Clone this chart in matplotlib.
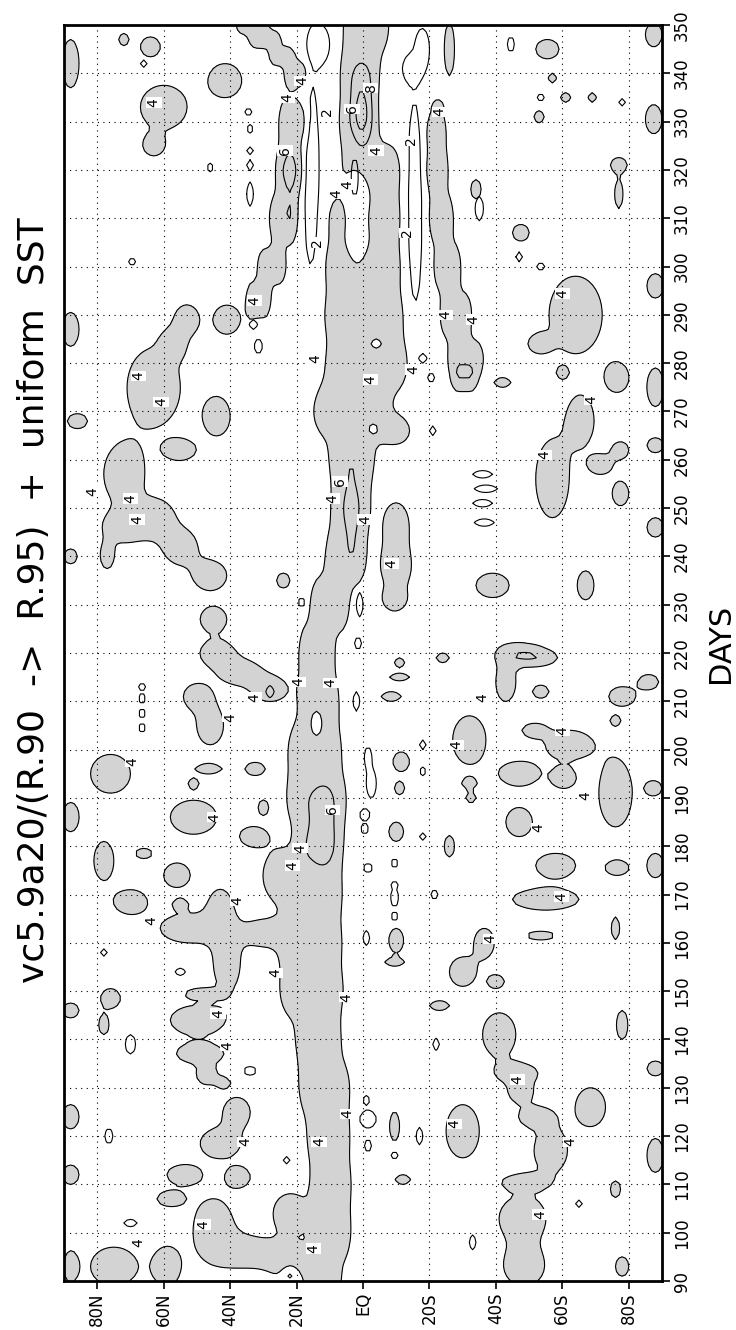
import numpy as np
import matplotlib.pyplot as plt

# grid of the field (latitude, day)
LAT = np.linspace(-90, 90, 181)
DAY = np.arange(90, 351, 1.0)
BASE = 3.0

# ITCZ ridge: (day, centre lat, half width, day sigma, amp)
ITCZ = [
    (90, 12, 5, 6, 2.2), (100, 9.7, 5.7, 6, 2.2), (110, 9.7, 5.7, 6, 2.2),
    (120, 10.4, 6, 6, 2.2), (130, 11.6, 7.2, 6, 2.2), (140, 13.5, 6.3, 6, 2.2),
    (150, 15.5, 9, 6, 2.2), (160, 16, 9, 6, 2.2), (170, 14.7, 7.8, 6, 2.2),
    (180, 13.5, 6.5, 6, 2.2), (190, 14.2, 8.3, 6, 2.2), (200, 14.6, 7.5, 6, 2.2),
    (210, 13.3, 5.7, 6, 2.2), (220, 14, 5, 6, 2.2), (230, 10, 5.5, 6, 2.2),
    (240, 5.2, 5.7, 6, 2.2), (250, 3.7, 5.5, 6, 2.2), (260, 3.4, 6.3, 6, 2.2),
    (270, 3.5, 11, 6, 2.2), (280, -1.7, 12, 6, 2.2), (290, -0.5, 11.5, 6, 2.2),
    (300, 0, 11, 6, 2.2), (310, -0.5, 10.5, 6, 2.2), (320, -2, 9, 6, 2.2),
    (330, 1.4, 5.5, 6, 2.2), (340, 1, 5.5, 6, 2.2), (350, -1, 6.5, 6, 2.2),
]
# late-year northern and southern branches
N_BRANCH = [
    (293, 31.5, 3.5, 4, 2.2), (300, 27.5, 4, 4, 2.2), (310, 24, 4, 5, 2.2),
    (320, 22, 4, 5, 2.2), (330, 20.8, 4.2, 5, 2.2), (340, 20, 3.5, 3, 2.2),
    (343.5, 24.5, 3.5, 2, 2.2), (347, 29.5, 4.5, 2, 2.2), (350, 33.5, 4.5, 2, 2.2),
]
S_BRANCH = [
    (277, -30.5, 3.5, 3, 2.2), (281, -31, 5, 4, 2.2), (290, -28, 4.5, 5, 2.2),
    (300, -25.4, 3.8, 5, 2.2), (310, -23.5, 3.5, 5, 2.2), (320, -22.2, 3.2, 5, 2.2),
    (328, -22, 2.8, 4, 2.2), (333, -22.5, 1.5, 1.5, 2.0),
]
# maxima inside the bands (6 and 8 contours): (lat, day, sig lat, sig day, amp)
CORES = [(12, 184, 5, 9, 1.6), (3.5, 249.5, 2.2, 9, 1.6),
         (0.5, 332, 2.8, 7.5, 4.0), (22, 318.5, 2.5, 10.6, 1.5)]
# minima: holes in the bands and the dry strips (2 contours)
HOLES = [(1.7, 311, 4.7, 14, -2.5), (14, 205.5, 2.3, 4, -2.0),
         (-3, 266.5, 1.7, 1.2, -2.0), (-4, 284, 2.2, 1.4, -2.0),
         (22, 91.5, 2.3, 1.8, -2.5)]
DRY = [(15.5, 318, 2.8, 23.6, -2.2), (13, 346, 3.5, 4.5, -2.2),
       (-15.5, 311, 2.8, 25.8, -2.2), (-14.5, 341, 2.8, 2.8, -2.2),
       (-18, 345, 2.2, 4.5, -2.2)]

# shaded patches: (lat, day, half width lat, half width day)
BLOBS_NH = [
    (88, 342, 2.5, 5), (72, 347, 1.5, 1.2), (64, 345.5, 3, 2), (60, 333, 7, 4.5),
    (63, 325, 3, 2), (41.5, 338.5, 5, 3.5), (88, 287, 2.5, 3.5), (53, 289, 3.5, 3),
    (41, 289, 4, 3), (63, 275, 8, 8), (57, 284, 3, 2.5), (72, 257, 6, 6),
    (55, 262, 4.5, 2), (86, 268, 3, 1.5), (44, 269, 4, 4), (72, 246, 6, 3),
    (62, 248, 5, 3.5), (55, 242, 5, 3.5), (46, 236, 5, 3), (77, 240, 2, 2.5),
    (88, 240, 2, 1.5), (45, 227, 4, 2.5), (24, 235, 2, 1.5), (44, 220, 5, 2.5),
    (37, 216, 6, 2.5), (28, 212.5, 5, 2.5), (50, 211, 4, 2.5), (46, 205, 4, 4),
    (76, 195, 6, 4), (46.5, 196, 4, 1), (32.5, 196, 3, 1.3), (51, 193, 1.5, 1),
    (30, 188, 1.5, 1.5), (51, 186, 7, 3.5), (88, 186, 2.5, 3), (33, 182, 4, 2),
    (78, 177, 3, 4), (66, 178.5, 2.5, 1), (56, 174, 4, 2.5), (25, 174, 5, 5),
    (70, 168.5, 5, 2.5), (55, 168, 2, 1), (43, 167, 3.5, 4), (52, 163, 9, 3),
    (41, 156, 4, 6), (30, 162, 6, 2.5), (88, 146, 2.5, 1.5), (76, 148.5, 3, 2),
    (78, 143, 1.5, 2), (48.5, 149.5, 4.5, 1), (50, 144, 8, 3), (49, 137, 7, 2),
    (47, 132.5, 3, 1.8), (42, 131, 2, 1), (88, 124, 2.5, 2.5), (38, 125, 4, 3),
    (43, 118.5, 6, 3), (88, 112, 2.5, 2), (54, 112, 5, 2), (37.5, 111.5, 3.5, 2),
    (58, 107, 4, 1.5), (45, 101, 6, 6), (35, 96, 8, 3), (22, 104, 5, 4),
    (22, 94, 6, 3), (75, 93, 7, 4), (59, 93, 4, 4), (88, 93, 2, 3),
]
BLOBS_SH = [
    (-26, 345, 1.5, 5.5), (-55.5, 345, 3.5, 2), (-57, 339, 1.2, 1), (-61, 335, 1.5, 1),
    (-69, 335, 1.2, 1), (-53, 331, 1.5, 1.2), (-87.5, 330.5, 2.5, 3), (-87.5, 348, 2.5, 2.5),
    (-77, 321, 2.5, 1.5), (-77, 315, 1.2, 3), (-34, 316, 1.5, 2), (-47.5, 307, 2.5, 1.7),
    (-64, 290, 8, 8), (-53, 284, 3, 1.7), (-76.5, 277, 3.5, 3), (-60, 278, 1.5, 1),
    (-88, 296, 2.5, 2.5), (-88, 275, 2.5, 4), (-65.5, 268, 4, 5), (-42, 276, 2.5, 1),
    (-77.5, 262, 2.5, 1.7), (-57, 256, 5, 8), (-71.5, 259, 3.5, 2), (-77.5, 253, 2.5, 2.5),
    (-88, 246, 2.5, 2), (-88, 263, 2.5, 1.5), (-39, 234, 5, 2.5), (-67, 234, 2.5, 3),
    (-47, 220, 6, 2), (-52, 219, 6, 1.5), (-43, 214, 3, 4), (-78, 211, 4, 2),
    (-53.5, 212, 2.5, 1.3), (-86, 214, 3, 1.5), (-32, 202, 5, 5), (-51.5, 204, 3.5, 1.3),
    (-62, 201, 7, 3), (-76, 206, 1.5, 1), (-47, 195, 6, 2.5), (-60.5, 194, 3.5, 2),
    (-76, 191, 5, 7), (-87.5, 192, 2.5, 1.5), (-47, 185, 4, 3), (-58, 176, 6, 2.5),
    (-76.5, 175.5, 3.5, 1.5), (-88, 176, 2.5, 2.5), (-55, 169, 10, 2.2), (-53.5, 161.5, 4.5, 0.8),
    (-76, 163, 1.2, 2.3), (-36.5, 160, 3, 3), (-30, 154, 4, 3), (-40, 152, 2.5, 1.3),
    (-23, 147, 3, 1), (-41, 141, 5, 4.5), (-78, 143, 1.7, 3), (-46.5, 133, 6, 2),
    (-47.5, 129, 3.5, 2), (-68.5, 126, 4.5, 4), (-88, 134, 2.5, 1.5), (-52, 124, 5, 2),
    (-30, 121, 5, 5.5), (-56.5, 117, 5, 4.5), (-88, 116, 2.5, 3.5), (-48.5, 110.5, 6, 1.5),
    (-76, 109, 1.5, 1.7), (-48, 103, 7, 4.5), (-48.5, 93, 6, 4), (-78, 93, 2, 2),
]
BLOBS_TROP = [
    (-10, 247, 3.5, 4), (-10, 238, 4.5, 5), (-9.5, 231, 3, 2), (-8.5, 211, 3, 1),
    (-11, 215, 3, 0.8), (-11, 218, 1.5, 1), (-24, 219, 2, 1), (-11.5, 197.5, 2.5, 2),
    (-11, 192, 1.5, 1.3), (-32, 193, 2, 1), (-32.5, 190, 1.5, 1), (-26, 180, 1.5, 2.2),
    (-10, 183, 2.2, 2), (-10, 160.5, 2.2, 2.5), (-9.5, 156, 2.8, 0.8), (-9.5, 122, 1.5, 3),
    (-12, 111, 2.3, 1), (-10, 266, 4, 2.5),
]
# small closed 4-contours drawn without shading
LOOPS = [
    (66, 342, 1, 0.8), (34.5, 332, 1, 0.8), (34, 328.5, 1, 0.8), (34, 324, 1, 0.8),
    (34, 321, 1, 1), (34, 315, 1, 2.5), (46, 320.5, 1, 0.8), (69.5, 301, 1, 0.8),
    (33, 288, 1.2, 1), (31.5, 283.5, 1.2, 1.5), (-44.5, 346, 1, 1.5), (-78, 334, 1, 0.8),
    (-53.5, 335, 1, 0.8), (-35, 312, 1.2, 2.5), (-47, 302, 1, 1), (-53.5, 300, 1.2, 0.8),
    (-18, 281, 1.2, 1), (-20.5, 277, 1, 1), (-21, 266, 1, 1), (-36, 257, 3, 0.8),
    (-37, 254, 3.5, 0.8), (-36, 251, 3, 0.8), (-36.5, 247, 3, 0.8), (1, 230, 1, 2.5),
    (1.5, 222, 1, 1.2), (18.5, 230.5, 1, 0.8), (66.5, 213, 1, 0.8), (66.5, 210.5, 1, 0.8),
    (66.5, 207.5, 1, 0.8), (66.5, 204.5, 1, 0.8), (28, 212, 1.2, 1.2), (2, 210, 1, 2),
    (-18, 201, 1, 1), (-1.5, 198.5, 1, 2), (-2.5, 193, 1.5, 3), (-18, 195.5, 1, 0.8),
    (-0.5, 186.5, 1.5, 1.2), (-0.5, 183.5, 1.2, 0.8), (-18, 182, 1, 0.8), (-1.5, 175.5, 1.5, 0.8),
    (-9.5, 176.5, 1, 0.8), (-9.5, 172, 1, 0.8), (-9.5, 170, 1, 0.8), (-9.5, 168.5, 1, 0.8),
    (-9.5, 165.5, 1, 0.8), (-21.5, 170, 1, 1), (-1, 161, 1, 1.5), (-22, 139, 1, 1.2),
    (-1.5, 123.5, 2.5, 1.8), (-1, 127.5, 1, 0.8), (-1.5, 118, 1, 1.2), (-17, 120, 1, 1.8),
    (-9.5, 116, 1, 0.8), (-33, 98, 1, 1.5), (-65, 106, 1, 0.8), (78, 158, 1, 0.8),
    (55, 154, 1.5, 0.8), (70, 139, 1.5, 2), (34, 133.5, 2, 0.8), (76.5, 120, 1.2, 1.5),
    (23, 115, 1, 0.8), (70, 102, 2, 0.8), (2.5, 318.5, 1, 4),
]
# contour labels: (text, lat, day)
LABELS = [
    ("4", 18.3, 338.4), ("4", 22.9, 335), ("2", 10.9, 332), ("6", 3.4, 332.6),
    ("8", -2.3, 337), ("4", 63, 334), ("4", -23, 332), ("6", 23.5, 324),
    ("4", -4, 324), ("2", -14.4, 326), ("4", 4.6, 317), ("4", 8, 315),
    ("2", 13.7, 305), ("2", -13.2, 307), ("4", 32.7, 293), ("4", -60, 294.4),
    ("4", -24.7, 290), ("4", -33.3, 289), ("4", 14.3, 281), ("4", 67.6, 277.4),
    ("4", -15, 278.7), ("4", -2.3, 276.6), ("4", 60.8, 272), ("4", -68.8, 272.5),
    ("4", -54.5, 261), ("6", 6.9, 255.5), ("4", 81.4, 253.4), ("4", 70, 252),
    ("4", 68, 247.6), ("4", 9.2, 252), ("4", -0.6, 247.6), ("4", -8.6, 238.5),
    ("4", 32.7, 210.8), ("4", 19.5, 214), ("4", 9.7, 213.8), ("4", 40, 206.7),
    ("4", -36, 210.8), ("4", 69.4, 197.5), ("4", -28, 201), ("4", -60, 204),
    ("6", 9.2, 187.5), ("4", 44.7, 186), ("4", -67, 190.4), ("4", -52.8, 183.8),
    ("4", 18.9, 179.6), ("4", 21.2, 176), ("4", 37.8, 168.75), ("4", -59.7, 169.6),
    ("4", 63.6, 164.6), ("4", -38.4, 160.8), ("4", 26.4, 153.75), ("4", 5, 148.75),
    ("4", 43.6, 145.4), ("4", 40.7, 138.75), ("4", -46.5, 131.7), ("4", 4.6, 124.6),
    ("4", -27.5, 122.5), ("4", 13.2, 118.75), ("4", 35.5, 118.75), ("4", -62.5, 118.75),
    ("4", -53.3, 103.75), ("4", 48.1, 101.7), ("4", 67.6, 97.9), ("4", 14.9, 96.7),
]
LAT_TICKS = [80, 60, 40, 20, 0, -20, -40, -60, -80]
LAT_LABELS = ["80N", "60N", "40N", "20N", "EQ", "20S", "40S", "60S", "80S"]
DAY_TICKS = list(range(90, 351, 10))
TITLE = "vc5.9a20/(R.90  ->  R.95)  +  uniform  SST"

LL, DD = np.meshgrid(LAT, DAY)
K = np.sqrt(np.log(2.0))


def add_chain(f, nodes):
    for d0, c, hw, sd, a in nodes:
        f += a / (1 + ((LL - c) / hw) ** 6) * np.exp(-((DD - d0) / sd) ** 2)


def add_gauss(f, items):
    for la, d0, sl, sd, a in items:
        f += a * np.exp(-((LL - la) / sl) ** 2 - ((DD - d0) / sd) ** 2)


def add_blobs(f, items, amp=2.0):
    for la, d0, hl, hd in items:
        f += amp * np.exp(-((LL - la) * K / hl) ** 2 - ((DD - d0) * K / hd) ** 2)


field = np.full(LL.shape, BASE)
for nodes in (ITCZ, N_BRANCH, S_BRANCH):
    add_chain(field, nodes)
add_gauss(field, CORES + HOLES + DRY)
for items in (BLOBS_NH, BLOBS_SH, BLOBS_TROP):
    add_blobs(field, items)
loops = np.full(LL.shape, BASE)
add_blobs(loops, LOOPS)

plt.rcParams["font.family"] = ["Liberation Sans Narrow", "DejaVu Sans"]
fig = plt.figure(figsize=(7.36, 13.3), dpi=100)
ax = fig.add_axes([64 / 736, 49 / 1330, 598 / 736, 1256 / 1330])

ax.contourf(LAT, DAY, field, levels=[4, 100], colors=["#d3d3d3"])
ax.contour(LAT, DAY, field, levels=[2, 4, 6, 8], colors="k", linewidths=0.8)
ax.contour(LAT, DAY, loops, levels=[4], colors="k", linewidths=0.8)
for s, la, d in LABELS:
    ax.text(la, d, s, rotation=90, ha="center", va="center", fontsize=10,
            family="DejaVu Sans",
            bbox=dict(fc="white", ec="none", pad=0.6))

ax.set_xlim(90, -90)
ax.set_ylim(90, 350)
ax.set_xticks(LAT_TICKS)
ax.set_xticklabels(LAT_LABELS, rotation=90)
ax.set_yticks(DAY_TICKS)
ax.set_yticklabels([str(d) for d in DAY_TICKS], rotation=90, va="center")
ax.yaxis.tick_right()
ax.tick_params(direction="out", length=6, width=1.2, labelsize=12, pad=2)
ax.grid(True, color="k", linestyle=(0, (1, 4)), linewidth=0.8)
for sp in ax.spines.values():
    sp.set_linewidth(2)

fig.text(34 / 736, 1 - 600 / 1330, TITLE, rotation=90, ha="center", va="center",
         fontsize=26, family="DejaVu Sans")
fig.text(721 / 736, 1 - 643 / 1330, "DAYS", rotation=90, ha="center", va="center",
         fontsize=22)

fig.savefig("out.png", dpi=100)
